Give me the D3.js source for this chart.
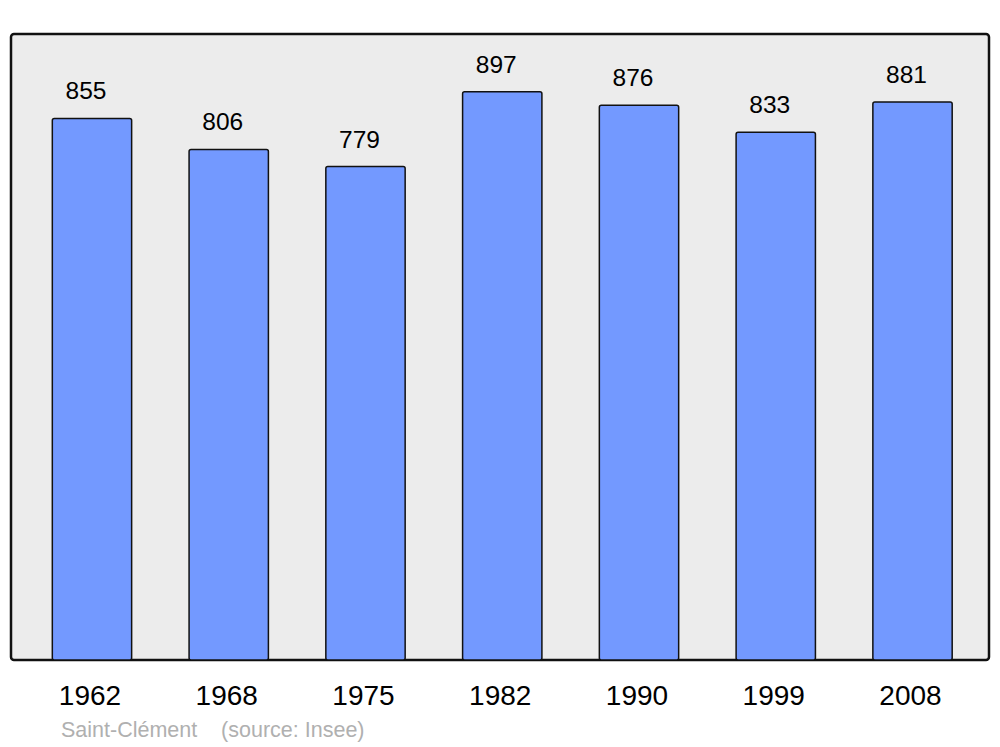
<!DOCTYPE html>
<html><head><meta charset="utf-8">
<script src="https://cdn.jsdelivr.net/npm/d3@7"></script>
<style>body{margin:0;background:#fff}svg{display:block}</style>
</head><body><svg id="c" width="1000" height="747"></svg>
<script>
const years = ["1962","1968","1975","1982","1990","1999","2008"];
const population = [855,806,779,897,876,833,881];
const caption = "Saint-Clément    (source: Insee)";

const svg = d3.select("#c");
const frame = {x0: 11, x1: 989, y0: 34, y1: 660};
svg.append("rect").attr("x", frame.x0).attr("y", frame.y0)
  .attr("width", frame.x1 - frame.x0).attr("height", frame.y1 - frame.y0)
  .attr("rx", 3).attr("fill", "#ececec").attr("stroke", "#111").attr("stroke-width", 2.5);

const x = d3.scaleBand().domain(years).range([23.6, 980.9]).paddingInner(0.42).paddingOuter(0.21);
const y = d3.scaleLinear().domain([0, 988.3]).range([frame.y1, frame.y0]);

svg.selectAll("rect.bar").data(years).enter().append("rect").attr("class","bar")
  .attr("x", d => x(d)).attr("width", x.bandwidth())
  .attr("y", (d,i) => y(population[i])).attr("height", (d,i) => y(0) - y(population[i]))
  .attr("rx", 2).attr("fill", "#7399ff").attr("stroke", "#111").attr("stroke-width", 1.5);

svg.selectAll("text.val").data(years).enter().append("text").attr("class","val")
  .attr("x", d => x(d) + x.bandwidth()/2 - 6)
  .attr("y", (d,i) => y(population[i]) - 19)
  .attr("text-anchor", "middle").attr("font-family", "Liberation Sans, Arial, sans-serif")
  .attr("font-size", 24.5).attr("fill", "#000")
  .text((d,i) => population[i]);

svg.selectAll("text.yr").data(years).enter().append("text").attr("class","yr")
  .attr("x", d => x(d) + x.bandwidth()/2 - 2)
  .attr("y", 705)
  .attr("text-anchor", "middle").attr("font-family", "Liberation Sans, Arial, sans-serif")
  .attr("font-size", 28).attr("fill", "#000")
  .text(d => d);

svg.append("text").attr("x", 61).attr("y", 737)
  .attr("font-family", "Liberation Sans, Arial, sans-serif").attr("font-size", 21.5)
  .attr("fill", "#b0b0b0").attr("xml:space","preserve").style("white-space","pre")
  .text(caption);
</script></body></html>
